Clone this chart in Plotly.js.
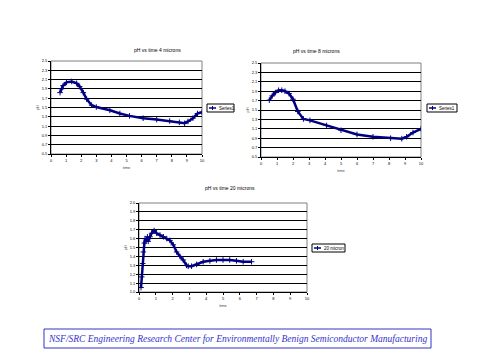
<!DOCTYPE html>
<html><head><meta charset="utf-8">
<script src="https://cdn.plot.ly/plotly-3.0.1.min.js"></script>
<style>html,body{margin:0;padding:0;background:#fff}#c{width:480px;height:360px}</style>
</head><body><div id="c"></div>
<script>
// Chart 1: 4 microns
const time4 = [0.6,0.7,0.8,1.03,1.37,1.7,1.9,2.14,2.36,2.69,3.0,3.9,4.56,5.2,6.1,7.0,7.86,8.5,8.85,9.07,9.4,9.7,10.0];
const ph4   = [1.82,1.9,1.97,2.04,2.06,2.02,1.95,1.82,1.68,1.55,1.51,1.44,1.37,1.32,1.27,1.24,1.21,1.18,1.16,1.2,1.27,1.37,1.40];
// Chart 2: 8 microns
const time8 = [0.52,0.7,0.9,1.1,1.3,1.5,1.75,2.0,2.3,2.65,3.06,4.1,5.0,6.0,7.0,8.1,8.8,9.1,9.5,10.0];
const ph8   = [1.71,1.8,1.87,1.92,1.92,1.9,1.85,1.73,1.47,1.31,1.28,1.17,1.07,0.98,0.93,0.9,0.89,0.93,1.02,1.10];
// Chart 3: 20 microns
const time20 = [0.12,0.16,0.22,0.26,0.32,0.36,0.42,0.5,0.55,0.65,0.75,0.9,1.05,1.25,1.45,1.65,1.84,2.04,2.24,2.44,2.63,2.83,2.93,3.13,3.43,3.82,4.22,4.61,5.0,5.4,5.8,6.2,6.7];
const ph20   = [1.05,1.17,1.32,1.45,1.55,1.60,1.57,1.62,1.57,1.62,1.66,1.69,1.66,1.64,1.62,1.60,1.58,1.53,1.45,1.40,1.36,1.30,1.29,1.29,1.31,1.34,1.35,1.36,1.36,1.36,1.35,1.34,1.34];

const xTicks = [0,1,2,3,4,5,6,7,8,9,10];
const yTicksA = [0.5,0.7,0.9,1.1,1.3,1.5,1.7,1.9,2.1,2.3,2.5];
const yTicksB = [1.0,1.1,1.2,1.3,1.4,1.5,1.6,1.7,1.8,1.9,2.0];
const titles = ["pH vs time 4 microns","pH vs time 8 microns","pH vs time 20 microns"];
const seriesNames = ["Series1","Series1","20 micron"];
const xTitle = "time";
const yTitle = "pH";
const footer = "NSF/SRC Engineering Research Center for Environmentally Benign Semiconductor Manufacturing";

const navy = "#000080";
const F = "Liberation Sans, Arial, sans-serif";
function tr(x,y,xa,ya,name){
  return {x:x,y:y,xaxis:xa,yaxis:ya,name:name,type:'scatter',mode:'lines+markers',showlegend:false,
    line:{color:navy,width:2.5},marker:{symbol:'cross-thin',size:4,color:navy,line:{color:navy,width:1}}};
}
const data = [
  tr(time4,ph4,'x','y',seriesNames[0]),
  tr(time8,ph8,'x2','y2',seriesNames[1]),
  tr(time20,ph20,'x3','y3',seriesNames[2])
];
function xax(dom,anchor){
  return {domain:dom,anchor:anchor,range:[0,10],tickvals:xTicks,showgrid:false,zeroline:false,
    showline:true,linecolor:'#000',linewidth:1,mirror:false,ticks:'outside',ticklen:2,tickcolor:'#000',
    tickfont:{size:4,family:F,color:'#000'},title:{text:xTitle,font:{size:4,family:F},standoff:4}};
}
function yax(dom,anchor,tv){
  return {domain:dom,anchor:anchor,range:[tv[0],tv[tv.length-1]],tickvals:tv,ticktext:tv.map(v=>v.toFixed(1)),
    showgrid:true,gridcolor:'#000',gridwidth:1,zeroline:false,showline:true,linecolor:'#000',linewidth:1,
    mirror:false,ticks:'outside',ticklen:2,tickcolor:'#000',tickfont:{size:4,family:F,color:'#000'},
    title:{text:yTitle,font:{size:4,family:F},standoff:2}};
}
function box(xd,yd){
  return {type:'rect',xref:'paper',yref:'paper',x0:xd[0],x1:xd[1],y0:yd[0],y1:yd[1],line:{color:'#808080',width:1},layer:'below'};
}
function px(v){return v/480;} function py(v){return 1-v/360;}
function legendShapes(x0,x1,yc){
  return [
    {type:'rect',xref:'paper',yref:'paper',x0:px(x0),x1:px(x1),y0:py(yc+4),y1:py(yc-4),line:{color:'#000',width:1},fillcolor:'#fff'},
    {type:'line',xref:'paper',yref:'paper',x0:px(x0+2),x1:px(x0+9),y0:py(yc),y1:py(yc),line:{color:navy,width:1.5}},
    {type:'line',xref:'paper',yref:'paper',x0:px(x0+5.5),x1:px(x0+5.5),y0:py(yc-2),y1:py(yc+2),line:{color:navy,width:1}}
  ];
}
function legendText(name,x0,yc){
  return {text:name,xref:'paper',yref:'paper',x:px(x0+10),y:py(yc),xanchor:'left',yanchor:'middle',showarrow:false,
    font:{size:4.5,family:F,color:'#000'}};
}
const d1x=[51/480,202/480], d1y=[1-154/360,1-61/360];
const d2x=[261/480,421/480], d2y=[1-157/360,1-63/360];
const d3x=[139/480,307/480], d3y=[1-292/360,1-203/360];
const layout = {
  width:480,height:360,margin:{l:0,r:0,t:0,b:0},paper_bgcolor:'#fff',plot_bgcolor:'#fff',
  showlegend:false,
  xaxis:xax(d1x,'y'), yaxis:yax(d1y,'x',yTicksA),
  xaxis2:xax(d2x,'y2'), yaxis2:yax(d2y,'x2',yTicksA),
  xaxis3:xax(d3x,'y3'), yaxis3:yax(d3y,'x3',yTicksB),
  shapes:[box(d1x,d1y),box(d2x,d2y),box(d3x,d3y),
    ...legendShapes(207,234,108), ...legendShapes(427,457,108), ...legendShapes(312,345,248),
    {type:'rect',xref:'paper',yref:'paper',x0:44/480,x1:431/480,y0:1-348/360,y1:1-329/360,line:{color:'#3333cc',width:1}}],
  annotations:[
    legendText(seriesNames[0],207,108), legendText(seriesNames[1],427,108), legendText(seriesNames[2],312,248),
    {text:titles[0],xref:'paper',yref:'paper',x:132/480,y:1-45/360,showarrow:false,font:{size:5,family:F,color:'#000'}},
    {text:titles[1],xref:'paper',yref:'paper',x:342/480,y:1-46/360,showarrow:false,font:{size:5,family:F,color:'#000'}},
    {text:titles[2],xref:'paper',yref:'paper',x:230/480,y:1-188/360,showarrow:false,font:{size:5,family:F,color:'#000'}},
    {text:'<i>'+footer+'</i>',xref:'paper',yref:'paper',x:237.5/480,y:1-338.5/360,xanchor:'center',yanchor:'middle',showarrow:false,
      font:{size:9.5,family:'Liberation Serif, Times New Roman, serif',color:'#3333cc'}}
  ]
};
Plotly.newPlot('c',data,layout,{staticPlot:true,displayModeBar:false});
</script></body></html>
